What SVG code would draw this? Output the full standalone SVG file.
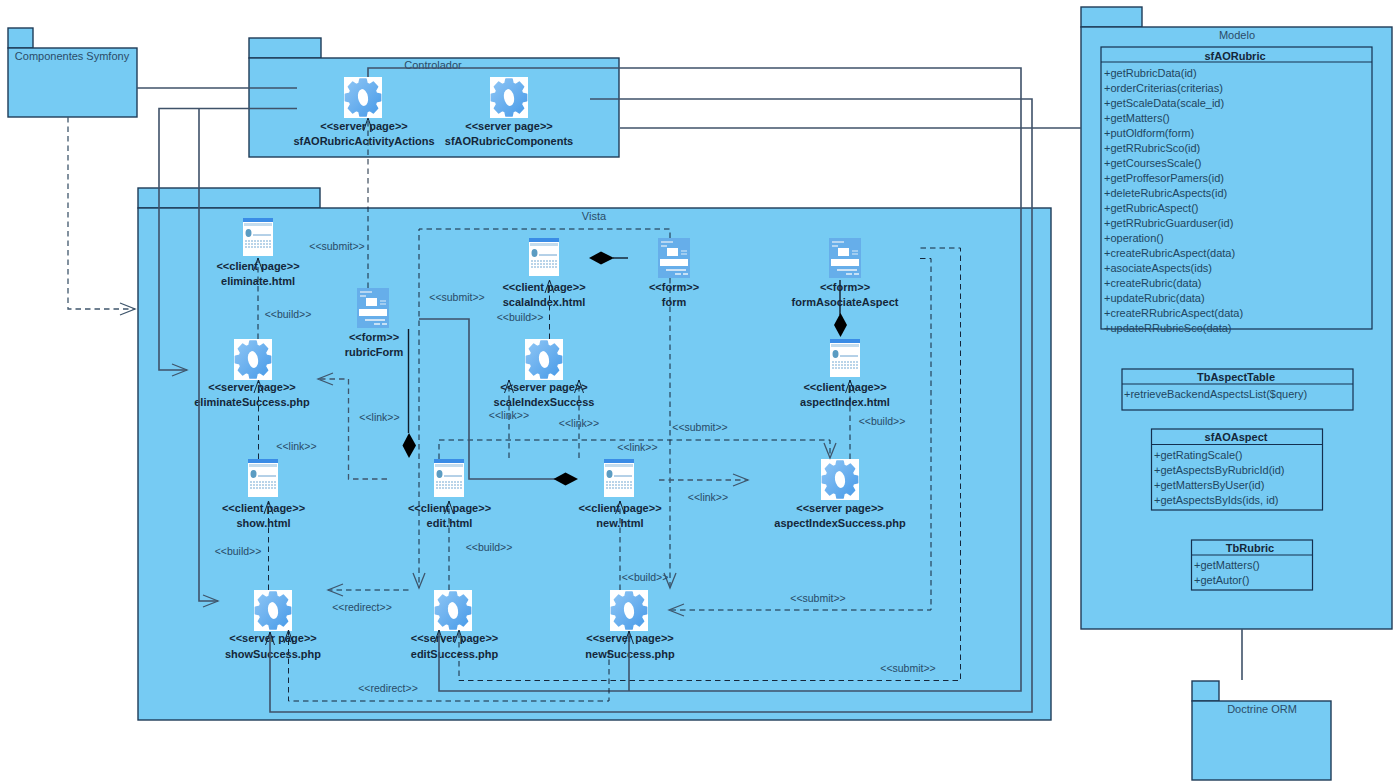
<svg xmlns="http://www.w3.org/2000/svg" width="1396" height="781" viewBox="0 0 1396 781">
<style>
text{font-family:"Liberation Sans",Arial,sans-serif;font-size:11px}
.pk{fill:#76cbf3;stroke:#1f3b57;stroke-width:1.4}
.cl{fill:none;stroke:#14304f;stroke-width:1.2}
.pt{fill:#2b4c68;text-anchor:middle}
.st{fill:#14273a;font-weight:bold;text-anchor:middle}
.t{fill:#14273a;font-weight:bold;text-anchor:middle}
.m{fill:#1f4560}
.lb{fill:#284a66;text-anchor:middle;font-size:10.5px}
.d{fill:none;stroke:#14263a;stroke-width:1;stroke-dasharray:5.5 4}
.dg{fill:none;stroke:#3f566c;stroke-width:1.3;stroke-dasharray:5.5 4}
.s{fill:none;stroke:#3f5269;stroke-width:1.6}
.sb{fill:none;stroke:#101c2a;stroke-width:1.4}
.au{marker-end:url(#ar)}
.ag{marker-end:url(#arg)}
.dm{fill:#000;stroke:none}
</style>
<defs>
<marker id="ar" markerUnits="userSpaceOnUse" markerWidth="18" markerHeight="16" refX="14" refY="7" orient="auto" overflow="visible"><path d="M1,2.5 L14,7 L1,11.5" fill="none" stroke="#14263a" stroke-width="1"/></marker>
<marker id="arg" markerUnits="userSpaceOnUse" markerWidth="20" markerHeight="18" refX="16" refY="8" orient="auto" overflow="visible"><path d="M1,2 L16,8 L1,14" fill="none" stroke="#3f566c" stroke-width="1.3"/></marker>
<linearGradient id="gg" x1="0" y1="0" x2="1" y2="1"><stop offset="0" stop-color="#8fc6f5"/><stop offset="1" stop-color="#479ae8"/></linearGradient>
<symbol id="gear" width="38" height="41" viewBox="0 0 38 41">
<rect width="38" height="41" fill="#fff"/>
<path fill="url(#gg)" stroke="url(#gg)" stroke-width="1.4" stroke-linejoin="round" d="M14.9,6.400L15.900,1.900H22.100L23.100,6.400L25.600,7.500L29.300,5L33.700,9.700L31.400,13.600L32.400,16.200L36.700,17.200V23.800L32.400,24.800L31.400,27.400L33.700,31.300L29.300,36L25.600,33.500L23.100,34.600L22.100,39.100H15.900L14.900,34.600L12.400,33.500L8.700,36L4.300,31.300L6.600,27.400L5.600,24.800L1.300,23.800V17.200L5.600,16.200L6.600,13.600L4.300,9.700L8.700,5L12.400,7.500Z"/>
<ellipse cx="19" cy="20.5" rx="5" ry="8.500" transform="rotate(-10 19 20.5)" fill="#fff"/>
</symbol>
<symbol id="page" width="30" height="38" viewBox="0 0 30 38">
<rect width="30" height="38" fill="#fff"/>
<rect width="30" height="4" fill="#3a8ce6"/>
<rect x="1" y="5" width="28" height="3" fill="#c4dced"/>
<ellipse cx="5.500" cy="15" rx="3" ry="4" fill="#5b9cc2"/>
<path d="M10,17h18" stroke="#6ba2d0" stroke-width="1"/>
<path d="M2,23h26M2,26h26M2,29h26" stroke="#a3c6e2" stroke-width="1.500" stroke-dasharray="2 1"/>
</symbol>
<symbol id="form" width="32" height="40" viewBox="0 0 32 40">
<rect width="32" height="40" fill="#66aeea"/>
<path d="M3,4h12M3,8h6" stroke="#cfe3f5" stroke-width="1.500"/>
<rect x="9" y="10" width="11" height="8" fill="#fff"/>
<path d="M23,13h6M23,16h6" stroke="#dcebf7" stroke-width="1.200"/>
<rect x="2" y="21" width="28" height="7" fill="#fff"/>
<rect x="8" y="31" width="20" height="2" fill="#cfe3f5"/>
<path d="M17,36h6M25,36h5" stroke="#e8f2fa" stroke-width="1.500"/>
</symbol>
</defs>
<rect width="1396" height="781" fill="#fff"/>

<g id="pkg-componentes"><rect class="pk" x="8" y="28" width="25" height="20"/><rect class="pk" x="8" y="48" width="129" height="69"/><text class="pt" x="72" y="60">Componentes Symfony</text></g>
<g id="pkg-controlador"><rect class="pk" x="249" y="38" width="72" height="20"/><rect class="pk" x="249" y="58" width="370" height="99"/><text class="pt" x="433" y="69">Controlador</text></g>
<g id="pkg-vista"><rect class="pk" x="138" y="188" width="182" height="20"/><rect class="pk" x="138" y="208" width="913" height="512"/><text class="pt" x="594" y="220">Vista</text></g>
<g id="pkg-modelo"><rect class="pk" x="1081" y="7" width="61" height="20"/><rect class="pk" x="1081" y="27" width="311" height="602"/><text class="pt" x="1237" y="39">Modelo</text></g>
<g id="pkg-doctrine"><rect class="pk" x="1192" y="681" width="27" height="20"/><rect class="pk" x="1192" y="701" width="139" height="79"/><text class="pt" x="1262" y="713">Doctrine ORM</text></g>

<g id="sfAORubric"><rect class="cl" x="1101" y="47" width="271" height="282"/><path class="cl" d="M1101,62H1372"/><text class="t" x="1235" y="60">sfAORubric</text>
<g class="rows">
<text class="m" x="1104" y="77">+getRubricData(id)</text>
<text class="m" x="1104" y="92">+orderCriterias(criterias)</text>
<text class="m" x="1104" y="107">+getScaleData(scale_id)</text>
<text class="m" x="1104" y="122">+getMatters()</text>
<text class="m" x="1104" y="137">+putOldform(form)</text>
<text class="m" x="1104" y="152">+getRRubricSco(id)</text>
<text class="m" x="1104" y="167">+getCoursesScale()</text>
<text class="m" x="1104" y="182">+getProffesorPamers(id)</text>
<text class="m" x="1104" y="197">+deleteRubricAspects(id)</text>
<text class="m" x="1104" y="212">+getRubricAspect()</text>
<text class="m" x="1104" y="227">+getRRubricGuarduser(id)</text>
<text class="m" x="1104" y="242">+operation()</text>
<text class="m" x="1104" y="257">+createRubricAspect(data)</text>
<text class="m" x="1104" y="272">+asociateAspects(ids)</text>
<text class="m" x="1104" y="287">+createRubric(data)</text>
<text class="m" x="1104" y="302">+updateRubric(data)</text>
<text class="m" x="1104" y="317">+createRRubricAspect(data)</text>
<text class="m" x="1104" y="332">+updateRRubricSco(data)</text>
</g></g>
<g id="TbAspectTable"><rect class="cl" x="1122" y="369" width="231" height="41"/><path class="cl" d="M1122,384H1353"/><text class="t" x="1236" y="381">TbAspectTable</text><text class="m" x="1124" y="398">+retrieveBackendAspectsList($query)</text></g>
<g id="sfAOAspect"><rect class="cl" x="1151.500" y="429" width="171" height="81"/><path class="cl" d="M1151.500,444.500H1322.500"/><text class="t" x="1236" y="441">sfAOAspect</text>
<text class="m" x="1154" y="458.500">+getRatingScale()</text><text class="m" x="1154" y="473.500">+getAspectsByRubricId(id)</text><text class="m" x="1154" y="488.500">+getMattersByUser(id)</text><text class="m" x="1154" y="503.500">+getAspectsByIds(ids, id)</text></g>
<g id="TbRubric"><rect class="cl" x="1191.500" y="540" width="121" height="50"/><path class="cl" d="M1191.500,555H1312.500"/><text class="t" x="1250" y="552">TbRubric</text><text class="m" x="1194" y="569">+getMatters()</text><text class="m" x="1194" y="584">+getAutor()</text></g>

<g id="sfAORubricActivityActions"><use href="#gear" x="344" y="77"/><text class="st" x="364" y="130">&lt;&lt;server page&gt;&gt;</text><text class="st" x="364" y="145">sfAORubricActivityActions</text></g>
<g id="sfAORubricComponents"><use href="#gear" x="490" y="77"/><text class="st" x="509" y="130">&lt;&lt;server page&gt;&gt;</text><text class="st" x="509" y="145">sfAORubricComponents</text></g>
<g id="eliminate"><use href="#page" x="243" y="218"/><text class="st" x="258" y="270">&lt;&lt;client page&gt;&gt;</text><text class="st" x="258" y="285">eliminate.html</text></g>
<g id="rubricForm"><use href="#form" x="357" y="288"/><text class="st" x="374" y="341">&lt;&lt;form&gt;&gt;</text><text class="st" x="374" y="356">rubricForm</text></g>
<g id="scalaIndex"><use href="#page" x="529" y="238"/><text class="st" x="544" y="291">&lt;&lt;client page&gt;&gt;</text><text class="st" x="544" y="306">scalaIndex.html</text></g>
<g id="form-node"><use href="#form" x="658" y="238"/><text class="st" x="674" y="291">&lt;&lt;form&gt;&gt;</text><text class="st" x="674" y="306">form</text></g>
<g id="formAsociateAspect"><use href="#form" x="829" y="238"/><text class="st" x="845" y="291">&lt;&lt;form&gt;&gt;</text><text class="st" x="845" y="306">formAsociateAspect</text></g>
<g id="aspectIndex"><use href="#page" x="830" y="339"/><text class="st" x="845" y="391">&lt;&lt;client page&gt;&gt;</text><text class="st" x="845" y="406">aspectIndex.html</text></g>
<g id="eliminateSuccess"><use href="#gear" x="234" y="339"/><text class="st" x="252" y="391">&lt;&lt;server page&gt;&gt;</text><text class="st" x="252" y="406">eliminateSuccess.php</text></g>
<g id="scaleIndexSuccess"><use href="#gear" x="525" y="339"/><text class="st" x="544" y="391">&lt;&lt;server page&gt;&gt;</text><text class="st" x="544" y="406">scaleIndexSuccess</text></g>
<g id="aspectIndexSuccess"><use href="#gear" x="821" y="459"/><text class="st" x="840" y="512">&lt;&lt;server page&gt;&gt;</text><text class="st" x="840" y="527">aspectIndexSuccess.php</text></g>
<g id="show"><use href="#page" x="248" y="459"/><text class="st" x="263.500" y="512">&lt;&lt;client page&gt;&gt;</text><text class="st" x="263.500" y="527">show.html</text></g>
<g id="edit"><use href="#page" x="434" y="459"/><text class="st" x="449.500" y="512">&lt;&lt;client page&gt;&gt;</text><text class="st" x="449.500" y="527">edit.html</text></g>
<g id="new"><use href="#page" x="604" y="459"/><text class="st" x="620" y="512">&lt;&lt;client page&gt;&gt;</text><text class="st" x="620" y="527">new.html</text></g>
<g id="showSuccess"><use href="#gear" x="254" y="590"/><text class="st" x="273" y="642">&lt;&lt;server page&gt;&gt;</text><text class="st" x="273" y="658">showSuccess.php</text></g>
<g id="editSuccess"><use href="#gear" x="434" y="590"/><text class="st" x="454.500" y="642">&lt;&lt;server page&gt;&gt;</text><text class="st" x="454.500" y="658">editSuccess.php</text></g>
<g id="newSuccess"><use href="#gear" x="610" y="590"/><text class="st" x="630" y="642">&lt;&lt;server page&gt;&gt;</text><text class="st" x="630" y="658">newSuccess.php</text></g>

<g id="connectors">
<path class="s" d="M137,88H297"/>
<path class="s ag" d="M297,108.500H159V370H187"/>
<path class="s ag" d="M199,108.500V601H218"/>
<path class="dg ag" d="M68,117V309H135"/>
<path class="s" d="M368,77V68H1021V691H439V630" style="marker-end:url(#ar)"/>
<path class="s" d="M629,691V631" style="marker-end:url(#ar)"/>
<path class="s" d="M590,99H1032V712H270V632" style="marker-end:url(#ar)"/>
<path class="s" d="M620,128H1081"/>
<path class="s" d="M1242,629V680"/>
<path class="d au" d="M368,288V118"/>
<path class="d au" d="M258,339V258"/>
<path class="d au" d="M258.500,459V380"/>
<path class="d au" d="M268.500,590V501"/>
<path class="d au" d="M449,590V501"/>
<path class="d au" d="M620,590V501"/>
<path class="d au" d="M850,459V380"/>
<path class="d au" d="M549.500,339V280"/>
<path class="d au" d="M509,458V380"/>
<path class="d au" d="M579,458V380"/>
<path class="dg ag" d="M387,479H348.500V379H318"/>
<path class="d ag" d="M670,238V229H419V588"/>
<path class="d ag" d="M670,278V588"/>
<path class="d ag" d="M408.500,590H328"/>
<path class="d ag" d="M439,459V440H830V458"/>
<path class="dg ag" d="M659,480H748"/>
<path class="d ag" d="M920,258.500H931V610H669"/>
<path class="d au" d="M920.500,248H960.500V680.500H459V630"/>
<path class="d au" d="M609,650V701H288.500V630"/>
<path class="sb" d="M408.500,329V433"/>
<path class="dm" d="M409,433L416,445.500L409,458L402.500,445.500Z"/>
<path class="s" d="M419,319H469V479H555"/>
<path class="dm" d="M553.500,479L565.500,472.500L578,479L565.500,485.500Z"/>
<path class="sb" d="M613,258H628"/>
<path class="dm" d="M589,258L601,251.500L614,258L601,264.500Z"/>
<path class="sb" d="M840,280V315"/>
<path class="dm" d="M840.500,313L847,325L840.500,337L834,325Z"/>
<text class="lb" x="337" y="250">&lt;&lt;submit&gt;&gt;</text>
<text class="lb" x="288" y="318">&lt;&lt;build&gt;&gt;</text>
<text class="lb" x="457" y="301">&lt;&lt;submit&gt;&gt;</text>
<text class="lb" x="520" y="321">&lt;&lt;build&gt;&gt;</text>
<text class="lb" x="379.500" y="421">&lt;&lt;link&gt;&gt;</text>
<text class="lb" x="296.500" y="450">&lt;&lt;link&gt;&gt;</text>
<text class="lb" x="509" y="419">&lt;&lt;link&gt;&gt;</text>
<text class="lb" x="579" y="427">&lt;&lt;link&gt;&gt;</text>
<text class="lb" x="700" y="431">&lt;&lt;submit&gt;&gt;</text>
<text class="lb" x="637.500" y="451">&lt;&lt;link&gt;&gt;</text>
<text class="lb" x="708" y="501">&lt;&lt;link&gt;&gt;</text>
<text class="lb" x="238" y="555">&lt;&lt;build&gt;&gt;</text>
<text class="lb" x="489" y="551">&lt;&lt;build&gt;&gt;</text>
<text class="lb" x="645" y="581">&lt;&lt;build&gt;&gt;</text>
<text class="lb" x="362" y="611">&lt;&lt;redirect&gt;&gt;</text>
<text class="lb" x="388" y="692">&lt;&lt;redirect&gt;&gt;</text>
<text class="lb" x="818" y="602">&lt;&lt;submit&gt;&gt;</text>
<text class="lb" x="908" y="672">&lt;&lt;submit&gt;&gt;</text>
<text class="lb" x="882" y="425">&lt;&lt;build&gt;&gt;</text>
</g>
</svg>
